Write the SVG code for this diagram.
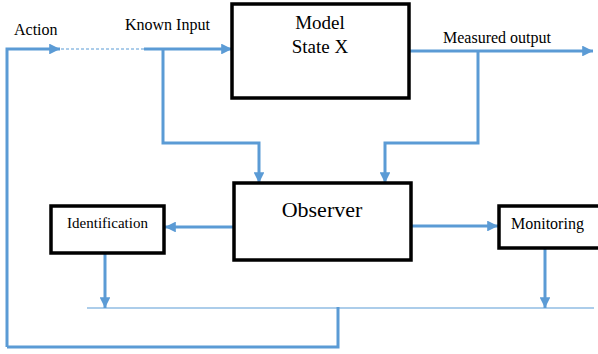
<svg xmlns="http://www.w3.org/2000/svg" width="598" height="354" viewBox="0 0 598 354">
<style>
.box{fill:#fff;stroke:#000;stroke-width:3.5}
.ln{fill:none;stroke:#5B9BD5;stroke-width:3}
.thin{fill:none;stroke:#5B9BD5;stroke-width:1.2}
.dash{fill:none;stroke:#5B9BD5;stroke-width:1.2;stroke-dasharray:3 2}
text{font-family:"Liberation Serif","Times New Roman",serif;fill:#000}
</style>
<defs>
<marker id="ah" viewBox="0 0 10 10" refX="10" refY="5" markerWidth="3.6" markerHeight="3.6" orient="auto" markerUnits="strokeWidth">
<path d="M0,0 L10,5 L0,10 Z" fill="#5B9BD5"/>
</marker>
</defs>
<g id="connectors">
<path class="ln" d="M7,347 V49 H60" marker-end="url(#ah)"/>
<path class="dash" d="M61,49 H144"/>
<path class="ln" d="M144,49 H232" marker-end="url(#ah)"/>
<path class="ln" d="M163,49 V143 H259 V183" marker-end="url(#ah)"/>
<path class="ln" d="M410,51 H593" marker-end="url(#ah)"/>
<path class="ln" d="M478,51 V143 H385 V183" marker-end="url(#ah)"/>
<path class="ln" d="M233,227 H165" marker-end="url(#ah)"/>
<path class="ln" d="M412,226 H498" marker-end="url(#ah)"/>
<path class="ln" d="M105,253 V308" marker-end="url(#ah)"/>
<path class="ln" d="M545,248 V308" marker-end="url(#ah)"/>
<path class="thin" d="M87,308 H594"/>
<path class="ln" d="M7,347 H338 V307"/>
</g>
<g id="action-label"><text x="14" y="35" font-size="16">Action</text></g>
<g id="known-input-label"><text x="125" y="30" font-size="16">Known Input</text></g>
<g id="measured-output-label"><text x="443" y="43" font-size="16">Measured output</text></g>
<g id="model">
<rect class="box" x="232" y="4" width="177" height="94"/>
<text x="320" y="29" font-size="19" text-anchor="middle">Model</text>
<text x="320" y="53" font-size="19" text-anchor="middle">State X</text>
</g>
<g id="observer">
<rect class="box" x="234" y="183" width="177" height="77"/>
<text x="322" y="217" font-size="22" text-anchor="middle">Observer</text>
</g>
<g id="identification">
<rect class="box" x="51" y="206" width="113" height="47"/>
<text x="107.5" y="228" font-size="15" text-anchor="middle">Identification</text>
</g>
<g id="monitoring">
<rect class="box" x="499" y="206" width="102" height="42"/>
<text x="511" y="229" font-size="16">Monitoring</text>
</g>
</svg>
